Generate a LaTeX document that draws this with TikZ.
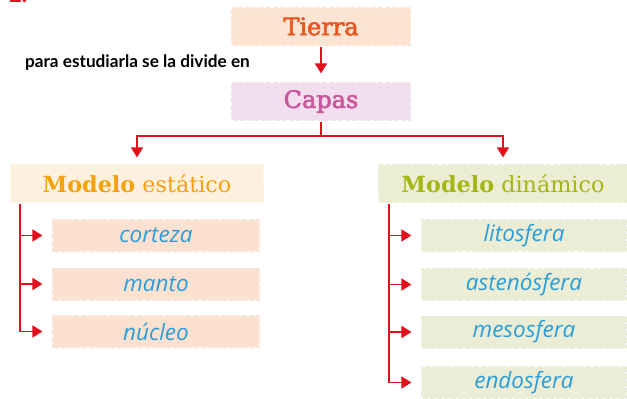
\documentclass[tikz,border=0pt]{standalone}
\usepackage{fontspec}
\usetikzlibrary{arrows.meta}
\newfontfamily\headfont{DejaVu Serif}
\newfontfamily\headfontb[FakeBold=2.5]{DejaVu Serif}
\newfontfamily\handfont{Open Sans}
\newfontfamily\labfont{Lato}
\definecolor{arrowred}{HTML}{E0101C}
\definecolor{tierrafill}{HTML}{FDE3D2}
\definecolor{tierratext}{HTML}{E9561C}
\definecolor{capasfill}{HTML}{F3DEEE}
\definecolor{capastext}{HTML}{C9559D}
\definecolor{estfill}{HTML}{FEF0DE}
\definecolor{esttext}{HTML}{F5A10F}
\definecolor{dinfill}{HTML}{EBEDD4}
\definecolor{dintext}{HTML}{A5B614}
\definecolor{estchild}{HTML}{FCE0D0}
\definecolor{dinchild}{HTML}{EBEDD6}
\definecolor{bluetext}{HTML}{2A9ED8}
\tikzset{
  box/.style={rectangle, inner sep=0pt, draw=white, line width=1.2pt, dash pattern=on 2pt off 5pt},
  headbox/.style={box, minimum height=39pt, font=\headfontb\fontsize{24}{26}\selectfont},
  modbox/.style={box, minimum height=39pt, font=\headfont\fontsize{22.3}{24}\selectfont},
  childbox/.style={box, minimum height=33pt, font=\handfont\itshape\fontsize{22.5}{24}\selectfont, text=bluetext},
  conn/.style={draw=arrowred, line width=1.8pt},
  tip/.style={-{Triangle[length=10pt,width=12pt]}},
}
\begin{document}
\begin{tikzpicture}[x=1pt,y=-1pt]
\clip (0,0) rectangle (627,399);
\fill[white] (0,0) rectangle (627,399);
\node[anchor=base west, text=arrowred, font=\labfont\bfseries\fontsize{22}{24}\selectfont, inner sep=0pt] (num) at (9,2.5) {2.};
% top
\node[headbox, fill=tierrafill, text=tierratext, minimum width=180pt] (tierra) at (321,26.5) {Tierra};
\node[headbox, fill=capasfill, text=capastext, minimum width=180pt] (capas) at (321,101.5) {Capas};
\node[font=\labfont\bfseries\fontsize{17.2}{19}\selectfont, anchor=center, inner sep=0pt] (lab) at (137.5,63) {para estudiarla se la divide en};
% models
\node[modbox, fill=estfill, text=esttext, minimum width=254pt] (est) at (137,183.5) {\textbf{Modelo} estático};
\node[modbox, fill=dinfill, text=dintext, minimum width=250pt] (din) at (503,183.5) {\textbf{Modelo} dinámico};
% children left
\node[childbox, fill=estchild, minimum width=208pt] (c1) at (156,235.5) {corteza};
\node[childbox, fill=estchild, minimum width=208pt] (c2) at (156,284) {manto};
\node[childbox, fill=estchild, minimum width=208pt] (c3) at (156,331.5) {núcleo};
% children right
\node[childbox, fill=dinchild, minimum width=206pt] (d1) at (524,235.5) {litosfera};
\node[childbox, fill=dinchild, minimum width=206pt] (d2) at (524,284.5) {astenósfera};
\node[childbox, fill=dinchild, minimum width=206pt] (d3) at (524,332) {mesosfera};
\node[childbox, fill=dinchild, minimum width=206pt] (d4) at (524,382.5) {endosfera};
% coordinates
\coordinate (split) at (321,136);
\coordinate (lx) at (20,0);
\coordinate (rx) at (389,0);
% connectors
\draw[conn, tip, shorten >=8pt] (tierra.south) -- (capas.north);
\draw[conn] (capas.south) -- (split);
\draw[conn, tip, shorten >=6pt] (split) -| (est.north);
\draw[conn, tip, shorten >=6pt] (split) -| (din.north);
\draw[conn] (est.south -| lx) -- (c3.west -| lx);
\foreach \c in {c1,c2,c3}{
  \draw[conn, tip, shorten >=9pt] (\c.west -| lx) -- (\c.west);
}
\draw[conn] (din.south -| rx) -- (d4.west -| rx);
\foreach \c in {d1,d2,d3,d4}{
  \draw[conn, tip, shorten >=9pt] (\c.west -| rx) -- (\c.west);
}
\end{tikzpicture}
\end{document}
